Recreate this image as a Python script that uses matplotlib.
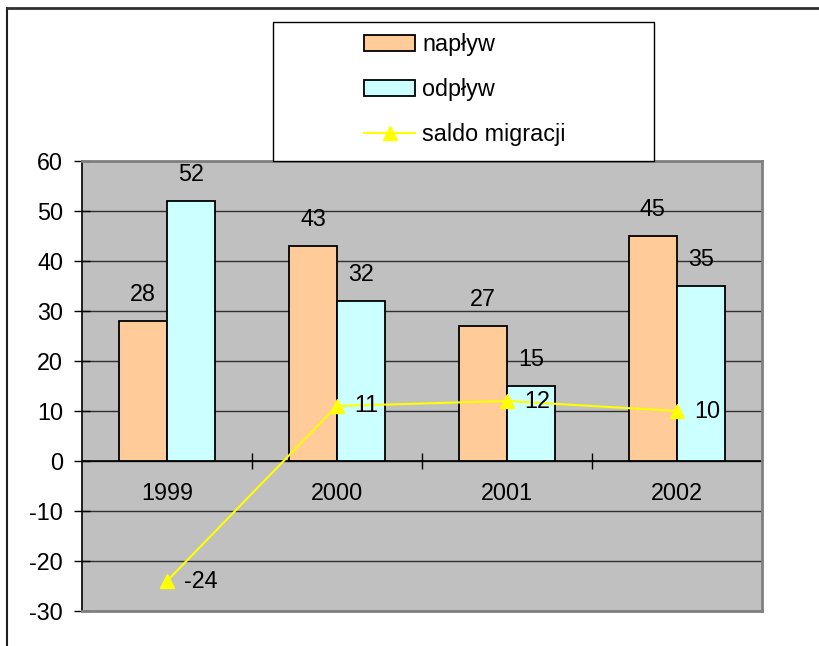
import numpy as np
import matplotlib
matplotlib.use("Agg")
import matplotlib.pyplot as plt
from matplotlib.patches import Rectangle
from matplotlib.lines import Line2D

plt.rcParams['font.family'] = ['Liberation Sans', 'DejaVu Sans']
plt.rcParams['axes.unicode_minus'] = False

# dane
lata = ['1999', '2000', '2001', '2002']
naplyw = [28, 43, 27, 45]
odplyw = [52, 32, 15, 35]
saldo = [-24, 11, 12, 10]

kolor_naplyw = '#FFCC99'
kolor_odplyw = '#CCFFFF'
kolor_saldo = '#FFFF00'

W, H = 819, 646
fig = plt.figure(figsize=(W / 100, H / 100), dpi=100)
ax = fig.add_axes([82 / W, 1 - 611 / H, (762 - 82) / W, (611 - 161) / H])
ax.set_facecolor('#C0C0C0')

x = np.arange(len(lata))
width = 0.2835
fs = 16.8

ax.bar(x - width / 2, naplyw, width, color=kolor_naplyw, edgecolor='black', linewidth=1.3, zorder=3)
ax.bar(x + width / 2, odplyw, width, color=kolor_odplyw, edgecolor='black', linewidth=1.3, zorder=3)

for i in range(len(lata)):
    ax.text(x[i] - width / 2, naplyw[i] + 3.0, str(naplyw[i]), ha='center', va='bottom', fontsize=fs, zorder=5)
    ax.text(x[i] + width / 2, odplyw[i] + 3.0, str(odplyw[i]), ha='center', va='bottom', fontsize=fs, zorder=5)

ax.plot(x, saldo, color=kolor_saldo, linewidth=1.5, marker='^', markersize=10, zorder=4)
for i in range(len(lata)):
    ax.text(x[i] + 0.1, saldo[i], str(saldo[i]), ha='left', va='center', fontsize=fs, zorder=5)

# etykiety lat
for i in range(len(lata)):
    ax.text(x[i], -6.6, lata[i], ha='center', va='center', fontsize=fs)

ax.set_xlim(-0.5, 3.5)
ax.set_ylim(-30, 60)
ax.set_yticks(np.arange(-30, 61, 10))
ax.tick_params(axis='y', labelsize=fs, direction='inout', length=11, width=1, pad=8)
ax.set_xticks([])
ax.grid(True, axis='y', color='#303030', linewidth=1, zorder=1)
ax.set_axisbelow(True)

# os x na zerze
ax.axhline(0, color='black', linewidth=1.2, zorder=2)
ax.vlines([0.5, 1.5, 2.5], -1.6, 1.6, color='black', linewidth=1, zorder=2)

for s in ['top', 'right', 'bottom']:
    ax.spines[s].set_color('#808080')
    ax.spines[s].set_linewidth(2)
ax.spines['left'].set_color('black')
ax.spines['left'].set_linewidth(1.2)

# legenda
fig.patches.append(Rectangle((273 / W, 1 - 161 / H), (654 - 273) / W, (161 - 22) / H,
                             transform=fig.transFigure, facecolor='white', edgecolor='black',
                             linewidth=1, zorder=5))
handles = [Rectangle((0, 0), 1, 1, facecolor=kolor_naplyw, edgecolor='black', linewidth=1.3),
           Rectangle((0, 0), 1, 1, facecolor=kolor_odplyw, edgecolor='black', linewidth=1.3),
           Line2D([], [], color=kolor_saldo, linewidth=1.5, marker='^', markersize=10)]
leg = fig.legend(handles, ['napływ', 'odpływ', 'saldo migracji'], loc='upper left',
                 bbox_to_anchor=(364 / W, 1 - 33 / H), frameon=False, fontsize=fs,
                 borderpad=0, borderaxespad=0, handlelength=2.2, handleheight=0.7,
                 handletextpad=0.3, labelspacing=0.95)
leg.set_zorder(6)

# ramka zewnetrzna
fig.add_artist(Line2D([7 / W, 7 / W], [0, 1 - 8 / H], transform=fig.transFigure, color='#202020', linewidth=1.5))
fig.add_artist(Line2D([7 / W, 1], [1 - 8 / H, 1 - 8 / H], transform=fig.transFigure, color='#303030', linewidth=2))

plt.savefig('out.png', dpi=100)
